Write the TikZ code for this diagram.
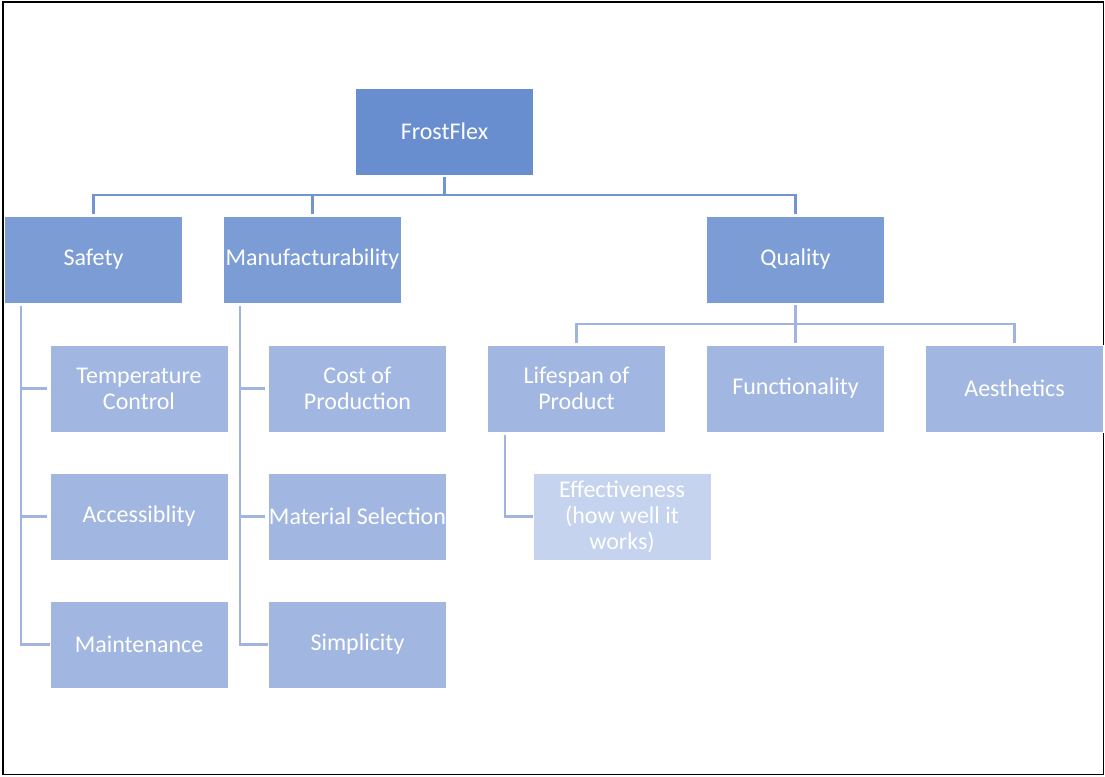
\documentclass[tikz,border=0pt]{standalone}
\usepackage{fontspec}
\setmainfont{Carlito}
\definecolor{lvA}{HTML}{698ED0}
\definecolor{lvB}{HTML}{7B9CD4}
\definecolor{lvC}{HTML}{A1B6E0}
\definecolor{lvD}{HTML}{C5D3EE}
\definecolor{lnA}{HTML}{7294D1}
\definecolor{lnB}{HTML}{A0B4DF}
\begin{document}
\begin{tikzpicture}[x=1pt,y=-1pt,
  box/.style={minimum width=178pt,minimum height=87pt,inner sep=0pt,
    text=white,align=center,font=\fontsize{24}{26}\selectfont,draw=white,line width=0.8pt},
  topbox/.style={box,fill=lvA},
  midbox/.style={box,fill=lvB},
  leafbox/.style={box,fill=lvC},
  palebox/.style={box,fill=lvD},
  linkA/.style={draw=lnA,line width=2.5pt},
  linkB/.style={draw=lnB,line width=2.5pt}]
\useasboundingbox (0,0) rectangle (1105,776);
\fill[white] (0,0) rectangle (1105,776);
\draw[black,line width=1.6pt] (2.8,2) rectangle (1103.5,774.5);

\node[topbox] (ff) at (444.5,131.5) {FrostFlex};
\node[midbox] (safety) at (93.5,259.5) {Safety};
\node[midbox] (manuf) at (312.5,259.5) {Manufacturability};
\node[midbox] (quality) at (795.5,259.5) {Quality};

\node[leafbox] (tc) at (139,388.5) {Temperature\\Control};
\node[leafbox] (acc) at (139,516.5) {Accessiblity};
\node[leafbox] (maint) at (139,644.5) {Maintenance};

\node[leafbox] (cost) at (357.5,388.5) {Cost of\\Production};
\node[leafbox] (mat) at (357.5,516.5) {Material Selection};
\node[leafbox] (simp) at (357.5,644.5) {Simplicity};

\node[leafbox] (life) at (576.5,388.5) {Lifespan of\\Product};
\node[leafbox] (func) at (795.5,388.5) {Functionality};
\node[leafbox] (aest) at (1014.5,388.5) {Aesthetics};

\node[palebox] (eff) at (622,516.5) {Effectiveness\\(how well it\\works)};

% level 1 connectors
\coordinate (b1) at (444.5,195);
\draw[linkA,shorten <=2pt] (ff.south) -- (b1);
\draw[linkA,shorten <=2pt] (safety.north) |- (b1);
\draw[linkA,shorten >=2pt] (b1) -| (quality.north);
\draw[linkA,shorten <=2pt] (manuf.north) -- (manuf.north |- b1);

% Safety children
\coordinate (sv) at (21,303);
\draw[linkB,shorten <=3pt] (sv) |- (maint.west);
\draw[linkB,shorten >=3pt] (sv |- tc.west) -- (tc.west);
\draw[linkB,shorten >=3pt] (sv |- acc.west) -- (acc.west);

% Manufacturability children
\coordinate (mv) at (240,303);
\draw[linkB,shorten <=3pt] (mv) |- (simp.west);
\draw[linkB,shorten >=3pt] (mv |- cost.west) -- (cost.west);
\draw[linkB,shorten >=3pt] (mv |- mat.west) -- (mat.west);

% Quality children
\coordinate (b2) at (795.5,324);
\draw[linkB,shorten <=2pt] (quality.south) -- (b2);
\draw[linkB,shorten >=2pt] (b2) -| (life.north);
\draw[linkB,shorten >=2pt] (b2) -| (aest.north);
\draw[linkB,shorten >=2pt] (b2) -- (func.north);

% Lifespan child
\coordinate (lv) at (505,432);
\draw[linkB,shorten <=3pt] (lv) |- (eff.west);
\end{tikzpicture}
\end{document}
